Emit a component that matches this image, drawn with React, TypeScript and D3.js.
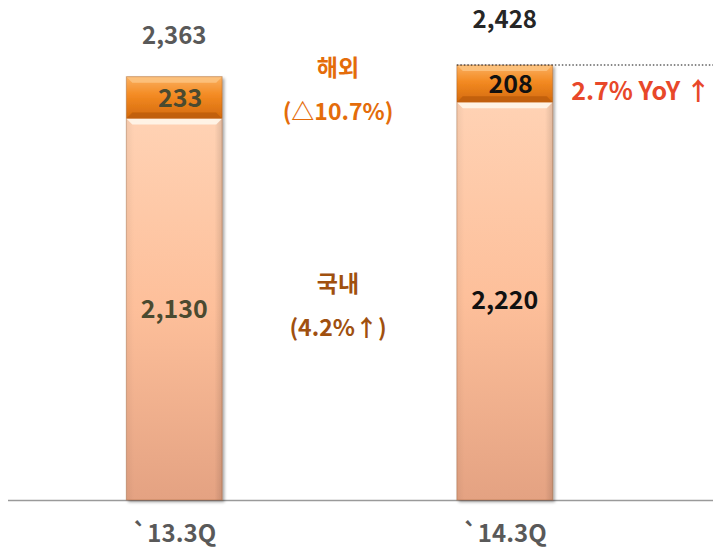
import * as d3 from 'd3';

const categories = ['`13.3Q', '`14.3Q'];
const domestic = [2130, 2220];
const overseas = [233, 208];
const totals = ['2,363', '2,428'];
const domesticLabels = ['2,130', '2,220'];
const overseasLabels = ['233', '208'];

const W = 713;
const H = 550;
const FONT = "'Noto Sans CJK KR', 'Noto Sans', sans-serif";

export default function App() {
  const x = d3.scaleBand<string>().domain(categories).range([9, 670]).paddingInner(0.71).paddingOuter(0.355);
  const y = d3.scaleLinear().domain([0, 2428]).range([500, 65]);
  const bw = x.bandwidth();
  const bevel = 6;

  const stack = d3.stack<number>()
    .keys(['domestic', 'overseas'])
    .value((i, k) => (k === 'domestic' ? domestic[i] : overseas[i]));
  const series = stack(categories.map((_, i) => i) as any);

  const labelColor = ['#4a4a30', '#111'];
  const totalColor = ['#595959', '#262626'];

  return (
    <svg width={W} height={H} style={{ position: 'absolute', left: 0, top: 0 }}>
      <defs>
        <linearGradient id="gOver" x1="0" x2="0" y1="0" y2="1">
          <stop offset="0%" stopColor="#fbb060" />
          <stop offset="45%" stopColor="#f38a22" />
          <stop offset="100%" stopColor="#d46a0c" />
        </linearGradient>
        <linearGradient id="gDom" x1="0" x2="0" y1="0" y2="1">
          <stop offset="0%" stopColor="#ffd2b4" />
          <stop offset="50%" stopColor="#fdbf9a" />
          <stop offset="100%" stopColor="#e4a282" />
        </linearGradient>
        <linearGradient id="gSide" x1="0" x2="1" y1="0" y2="0">
          <stop offset="0%" stopColor="#000" stopOpacity="0.05" />
          <stop offset="8%" stopColor="#000" stopOpacity="0" />
          <stop offset="92%" stopColor="#000" stopOpacity="0" />
          <stop offset="100%" stopColor="#000" stopOpacity="0.12" />
        </linearGradient>
        <filter id="shadow" x="-10%" y="-5%" width="125%" height="115%">
          <feDropShadow dx="2" dy="2" stdDeviation="1.5" floodColor="#000" floodOpacity="0.35" />
        </filter>
      </defs>

      {/* baseline */}
      <line x1={8} x2={W} y1={y(0) + 0.5} y2={y(0) + 0.5} stroke="#9a9a9a" strokeWidth={1.5} />

      {categories.map((c, i) => {
        const x0 = x(c)!;
        const dTop = y(series[0][i][1]);
        const oTop = y(series[1][i][1]);
        return (
          <g key={c} filter="url(#shadow)">
            <rect x={x0} y={dTop} width={bw} height={y(0) - dTop} fill="url(#gDom)" />
            <rect x={x0} y={dTop} width={bw} height={y(0) - dTop} fill="url(#gSide)" />
            <polygon
              points={`${x0},${dTop} ${x0 + bw},${dTop} ${x0 + bw - bevel},${dTop + bevel} ${x0 + bevel},${dTop + bevel}`}
              fill="#fff6ea"
              opacity={0.9}
            />
            <rect x={x0} y={oTop} width={bw} height={dTop - oTop} fill="url(#gOver)" />
            <polygon
              points={`${x0},${oTop} ${x0 + bw},${oTop} ${x0 + bw - bevel},${oTop + bevel} ${x0 + bevel},${oTop + bevel}`}
              fill="#fcc27e"
              opacity={0.9}
            />
            <polygon
              points={`${x0},${dTop} ${x0 + bw},${dTop} ${x0 + bw - bevel},${dTop - bevel} ${x0 + bevel},${dTop - bevel}`}
              fill="#b85a08"
              opacity={0.7}
            />
            <rect x={x0} y={oTop} width={bw} height={y(0) - oTop} fill="none" stroke="#8a4a20" strokeOpacity={0.35} strokeWidth={1} />
          </g>
        );
      })}

      {categories.map((c, i) => {
        const cx = x(c)! + bw / 2;
        const dTop = y(series[0][i][1]);
        const oTop = y(series[1][i][1]);
        return (
          <g key={c + 't'} fontFamily={FONT} fontWeight={700} textAnchor="middle">
            <text x={cx} y={oTop - (i === 0 ? 33 : 37)} fontSize={24} fill={totalColor[i]}>{totals[i]}</text>
            <text x={cx + 6} y={(oTop + dTop) / 2 + 9} fontSize={25} fill={labelColor[i]}>{overseasLabels[i]}</text>
            <text x={cx} y={(i === 0 ? 318 : 309)} fontSize={25} fill={labelColor[i]}>{domesticLabels[i]}</text>
            <text x={cx} y={542} fontSize={24} fill="#595959">{c}</text>
          </g>
        );
      })}

      {/* annotations */}
      <g fontFamily={FONT} fontWeight={700} textAnchor="middle">
        <text x={338} y={76} fontSize={23} fill="#e46c0a">해외</text>
        <text x={338} y={120} fontSize={23} fill="#e46c0a">(△10.7%)</text>
        <text x={338} y={292} fontSize={23} fill="#a0500f">국내</text>
        <text x={338} y={336} fontSize={23} fill="#a0500f">(4.2%↑)</text>
      </g>

      <line x1={x(categories[1])!} x2={W} y1={y(2428)} y2={y(2428)} stroke="#111" strokeWidth={1.2} strokeDasharray="1.5,2" />
      <text x={641} y={100} fontFamily={FONT} fontWeight={700} fontSize={25} fill="#e8482a" textAnchor="middle">2.7% YoY ↑</text>
    </svg>
  );
}
